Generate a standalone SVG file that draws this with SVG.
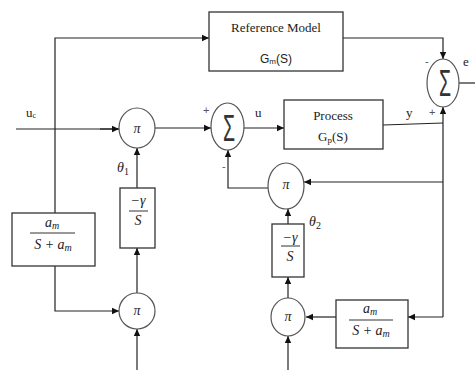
<svg xmlns="http://www.w3.org/2000/svg" width="475" height="370" viewBox="0 0 475 370">
<style>
.box{fill:#fff;stroke:#333;stroke-width:1.3}
.node{fill:#fff;stroke:#555;stroke-width:1.2}
.ln{fill:none;stroke:#222;stroke-width:1.2;marker-end:url(#ah)}
.pl{fill:none;stroke:#222;stroke-width:1.2}
.t{font-family:"Liberation Serif",serif;font-size:13px;fill:#222}
.s{font-family:"Liberation Sans",sans-serif;font-size:12px;fill:#222}
.m{font-family:"Liberation Serif",serif;font-style:italic;font-size:14px;fill:#222}
.sg{font-family:"Liberation Sans",sans-serif;font-size:11px;fill:#555}
.sum{font-family:"Liberation Sans",sans-serif;font-size:26px;fill:#333}
.fr{stroke:#333;stroke-width:1}
</style>
<defs>
<marker id="ah" markerWidth="8" markerHeight="8" refX="7" refY="4" orient="auto" markerUnits="userSpaceOnUse">
<path d="M0,0.8 L7,4 L0,7.2 Z" fill="#111"/>
</marker>
</defs>
<g id="connectors">
<polyline class="pl" points="16,129 119,129"/>
<polyline class="ln" points="100,129 119,129"/>
<polyline class="ln" points="55,213 55,38 209,38"/>
<polyline class="ln" points="55,266 55,311 119,311"/>
<polyline class="ln" points="137,293 137,248"/>
<polyline class="ln" points="137,188 137,148"/>
<polyline class="ln" points="155,128 211,128"/>
<polyline class="ln" points="244,128 284,128"/>
<polyline class="pl" points="383,125 443,123"/>
<polyline class="ln" points="443,317 443,107"/>
<polyline class="ln" points="443,182 304,182"/>
<polyline class="ln" points="443,317 408,317"/>
<polyline class="ln" points="343,38 443,38 443,59"/>
<polyline class="pl" points="459,83 475,83"/>
<polyline class="ln" points="268,188 228,188 228,150"/>
<polyline class="ln" points="288,224 288,209"/>
<polyline class="ln" points="288,298 288,277"/>
<polyline class="ln" points="336,317 306,317"/>
<polyline class="ln" points="137,370 137,329"/>
<polyline class="ln" points="288,370 288,336"/>
</g>
<g id="refModel">
<rect class="box" x="209" y="12" width="134" height="59"/>
<text class="t" x="276" y="32" font-size="14" text-anchor="middle">Reference Model</text>
<text class="s" x="276" y="63" text-anchor="middle">G<tspan font-size="8" dy="1">m</tspan><tspan dy="-1">(S)</tspan></text>
</g>
<g id="sum2">
<ellipse class="node" cx="443" cy="83" rx="16" ry="24"/>
<text class="sum" transform="translate(445,96) scale(0.75,1.4)" text-anchor="middle">Σ</text>
</g>
<g id="pi1">
<ellipse class="node" cx="137" cy="128" rx="18" ry="20"/>
<text class="m" x="137" y="133" font-size="13" text-anchor="middle">π</text>
</g>
<g id="sum1">
<ellipse class="node" cx="227.5" cy="126.5" rx="16.5" ry="23.5"/>
<text class="sum" transform="translate(229,141) scale(0.75,1.45)" text-anchor="middle">Σ</text>
</g>
<g id="process">
<rect class="box" x="284" y="100" width="99" height="49"/>
<text class="t" x="333" y="120" text-anchor="middle">Process</text>
<text class="t" x="333" y="141" text-anchor="middle">G<tspan font-size="9" dy="2">p</tspan><tspan dy="-2">(S)</tspan></text>
</g>
<g id="pi2">
<ellipse class="node" cx="286" cy="186" rx="18" ry="23"/>
<text class="m" x="286" y="189" font-size="13" text-anchor="middle">π</text>
</g>
<g id="gamma1">
<rect class="box" x="120" y="188" width="35" height="60"/>
<text class="m" x="138" y="205" text-anchor="middle">−γ</text>
<line class="fr" x1="129" y1="211" x2="148" y2="211"/>
<text class="m" x="138" y="225" text-anchor="middle">S</text>
</g>
<g id="am1">
<rect class="box" x="12" y="213" width="83" height="53"/>
<text class="m" x="52" y="227" text-anchor="middle">a<tspan font-size="10" dy="2">m</tspan></text>
<line class="fr" x1="30" y1="233" x2="75" y2="233"/>
<text class="m" x="53" y="249" text-anchor="middle">S + a<tspan font-size="10" dy="2">m</tspan></text>
</g>
<g id="pi3">
<ellipse class="node" cx="137" cy="311" rx="18" ry="18"/>
<text class="m" x="137" y="315" font-size="13" text-anchor="middle">π</text>
</g>
<g id="gamma2">
<rect class="box" x="272" y="224" width="32" height="53"/>
<text class="m" x="290" y="242" text-anchor="middle">−γ</text>
<line class="fr" x1="281" y1="246" x2="300" y2="246"/>
<text class="m" x="290" y="261" text-anchor="middle">S</text>
</g>
<g id="pi4">
<ellipse class="node" cx="288" cy="317" rx="17" ry="19"/>
<text class="m" x="288" y="321" font-size="13" text-anchor="middle">π</text>
</g>
<g id="am2">
<rect class="box" x="336" y="300" width="72" height="48"/>
<text class="m" x="370" y="313" text-anchor="middle">a<tspan font-size="10" dy="2">m</tspan></text>
<line class="fr" x1="349" y1="320" x2="393" y2="320"/>
<text class="m" x="371" y="335" text-anchor="middle">S + a<tspan font-size="10" dy="2">m</tspan></text>
</g>
<g id="labels">
<text class="t" x="26" y="117">u<tspan font-size="8" dy="1">c</tspan></text>
<text class="sg" x="203" y="114">+</text>
<text class="sg" x="222" y="170">-</text>
<text class="t" x="255" y="117">u</text>
<text class="t" x="406" y="117">y</text>
<text class="sg" x="429" y="116">+</text>
<text class="sg" x="425" y="65">-</text>
<text class="t" x="463" y="66">e</text>
<text class="m" x="117" y="172">θ<tspan font-size="10" dy="3" font-style="normal">1</tspan></text>
<text class="m" x="309" y="226">θ<tspan font-size="10" dy="3" font-style="normal">2</tspan></text>
</g>
</svg>
